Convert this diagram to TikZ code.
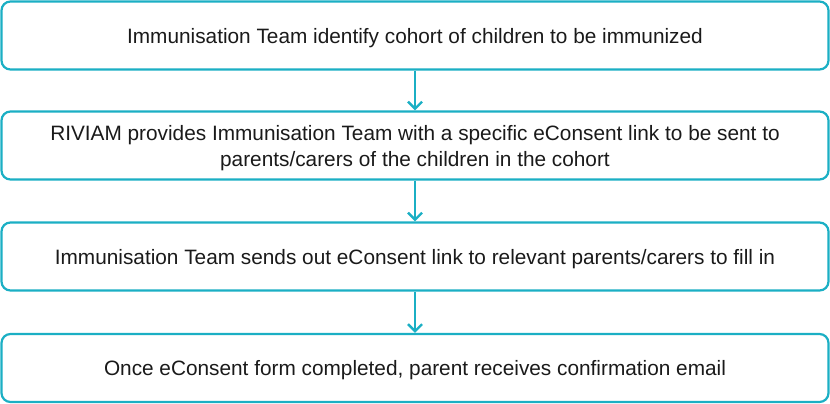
\documentclass[tikz,border=0pt]{standalone}
\usepackage{fontspec}
\setmainfont{Liberation Sans}
\usepackage{tikz}
\usetikzlibrary{arrows.meta}
\usepackage{xcolor}
\definecolor{teal1}{HTML}{1BAFC4}
\definecolor{ink}{HTML}{1A1A1A}

\begin{document}
\begin{tikzpicture}[x=1pt, y=1pt,
    stepbox/.style={draw=teal1, line width=2.2pt, rounded corners=9pt, fill=white,
        minimum width=827pt, minimum height=68pt, align=center, text=ink, text depth=0pt,
        font=\fontsize{20.8}{26}\selectfont},
    flow/.style={draw=teal1, line width=2.4pt, -{Straight Barb[length=7pt, width=14pt]}}]
    \useasboundingbox (0,0) rectangle (830,404);
    \node[stepbox] (cohort) at (415,368.5) {Immunisation Team identify cohort of children to be immunized};
    \node[stepbox] (link) at (415,258.5) {RIVIAM provides Immunisation Team with a specific eConsent link to be sent to\\parents/carers of the children in the cohort};
    \node[stepbox] (send) at (415,147.5) {Immunisation Team sends out eConsent link to relevant parents/carers to fill in};
    \node[stepbox] (confirm) at (415,36) {Once eConsent form completed, parent receives confirmation email};
    \draw[flow] (cohort) -- (link);
    \draw[flow] (link) -- (send);
    \draw[flow] (send) -- (confirm);
\end{tikzpicture}
\end{document}
